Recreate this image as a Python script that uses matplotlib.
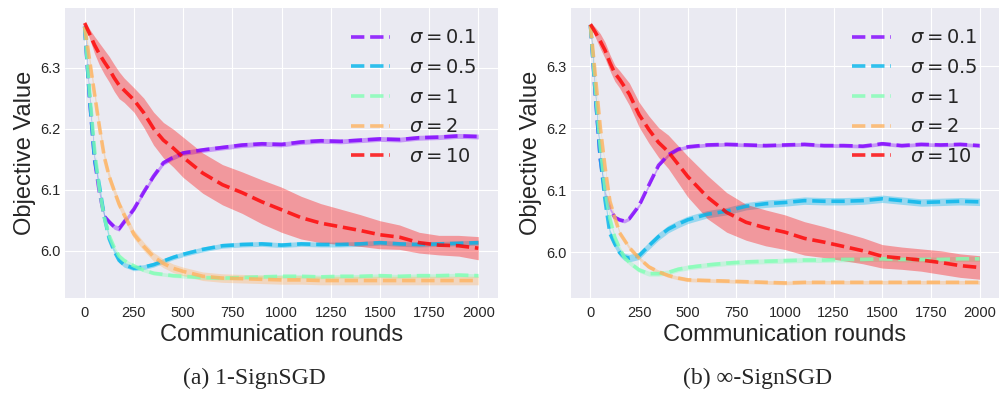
"""Objective value vs communication rounds for 1-SignSGD and inf-SignSGD."""

import matplotlib

matplotlib.use("Agg")

import matplotlib.pyplot as plt  # noqa: E402
import numpy as np  # noqa: E402

ROUNDS = [0, 25, 50, 75, 100, 125, 150, 175, 200, 250, 300, 350, 400, 450, 500,
          600, 700, 800, 900, 1000, 1100, 1200, 1300, 1400, 1500, 1600, 1700,
          1800, 1900, 2000]

SIGMA_LABELS = [r"$\sigma = 0.1$", r"$\sigma = 0.5$", r"$\sigma = 1$",
                r"$\sigma = 2$", r"$\sigma = 10$"]

# (a) 1-SignSGD
A_SIGMA_01 = [6.367, 6.249, 6.150, 6.095, 6.056, 6.047, 6.039, 6.036, 6.047, 6.068,
              6.096, 6.122, 6.144, 6.153, 6.160, 6.165, 6.169, 6.173, 6.175, 6.174,
              6.178, 6.180, 6.179, 6.181, 6.183, 6.182, 6.185, 6.186, 6.188, 6.187]
A_SIGMA_05 = [6.367, 6.249, 6.150, 6.106, 6.055, 6.019, 5.999, 5.984, 5.977, 5.971,
              5.973, 5.977, 5.983, 5.989, 5.994, 6.002, 6.008, 6.010, 6.011, 6.009,
              6.011, 6.010, 6.010, 6.011, 6.013, 6.011, 6.010, 6.011, 6.012, 6.013]
A_SIGMA_1 = [6.367, 6.260, 6.166, 6.099, 6.054, 6.024, 6.005, 5.991, 5.984, 5.975,
             5.968, 5.963, 5.961, 5.959, 5.958, 5.956, 5.955, 5.956, 5.957, 5.958,
             5.958, 5.957, 5.958, 5.958, 5.959, 5.958, 5.959, 5.959, 5.960, 5.959]
A_SIGMA_2 = [6.367, 6.312, 6.257, 6.203, 6.153, 6.121, 6.098, 6.076, 6.059, 6.027,
             6.007, 5.990, 5.979, 5.971, 5.966, 5.958, 5.955, 5.954, 5.953, 5.952,
             5.952, 5.951, 5.951, 5.951, 5.951, 5.951, 5.951, 5.951, 5.951, 5.951]
A_SIGMA_10 = [6.373, 6.355, 6.337, 6.322, 6.309, 6.297, 6.283, 6.271, 6.263, 6.247,
              6.226, 6.200, 6.181, 6.168, 6.153, 6.127, 6.108, 6.095, 6.080, 6.067,
              6.054, 6.045, 6.039, 6.033, 6.026, 6.022, 6.013, 6.009, 6.008, 6.004]
A_SPREAD_10 = [0.003, 0.008, 0.014, 0.018, 0.020, 0.021, 0.022, 0.022, 0.020, 0.020,
               0.024, 0.027, 0.029, 0.031, 0.033, 0.033, 0.033, 0.034, 0.036, 0.037,
               0.035, 0.032, 0.029, 0.026, 0.023, 0.020, 0.017, 0.016, 0.017, 0.019]
A_SPREAD_OTHERS = [0.004, 0.004, 0.003, 0.007]

# (b) inf-SignSGD
B_SIGMA_01 = [6.367, 6.255, 6.152, 6.095, 6.070, 6.056, 6.052, 6.050, 6.054, 6.075,
              6.108, 6.140, 6.157, 6.166, 6.170, 6.173, 6.174, 6.173, 6.172, 6.173,
              6.174, 6.172, 6.172, 6.171, 6.175, 6.172, 6.174, 6.173, 6.174, 6.172]
B_SIGMA_05 = [6.367, 6.255, 6.153, 6.084, 6.030, 6.013, 5.999, 5.992, 5.990, 5.994,
              6.010, 6.025, 6.037, 6.045, 6.052, 6.061, 6.066, 6.074, 6.078, 6.080,
              6.083, 6.082, 6.082, 6.083, 6.086, 6.083, 6.080, 6.081, 6.082, 6.081]
B_SIGMA_1 = [6.367, 6.265, 6.172, 6.101, 6.054, 6.024, 6.006, 5.991, 5.983, 5.971,
             5.965, 5.965, 5.967, 5.972, 5.975, 5.979, 5.982, 5.984, 5.985, 5.986,
             5.987, 5.987, 5.988, 5.988, 5.989, 5.988, 5.988, 5.988, 5.989, 5.989]
B_SIGMA_2 = [6.367, 6.285, 6.203, 6.137, 6.082, 6.056, 6.031, 6.019, 6.007, 5.990,
             5.976, 5.968, 5.962, 5.958, 5.955, 5.954, 5.953, 5.952, 5.951, 5.950,
             5.951, 5.951, 5.951, 5.951, 5.951, 5.951, 5.951, 5.951, 5.951, 5.951]
B_SIGMA_10 = [6.368, 6.355, 6.341, 6.326, 6.306, 6.289, 6.279, 6.267, 6.255, 6.222,
              6.198, 6.177, 6.162, 6.142, 6.122, 6.089, 6.064, 6.048, 6.039, 6.032,
              6.022, 6.016, 6.009, 6.002, 5.993, 5.990, 5.987, 5.983, 5.978, 5.975]
B_SPREAD_10 = [0.003, 0.008, 0.012, 0.013, 0.013, 0.013, 0.014, 0.016, 0.018, 0.020,
               0.022, 0.024, 0.027, 0.030, 0.033, 0.035, 0.032, 0.029, 0.029, 0.028,
               0.027, 0.025, 0.023, 0.021, 0.019, 0.018, 0.018, 0.019, 0.019, 0.019]
B_SPREAD_OTHERS = [0.003, 0.006, 0.004, 0.003]

COLORS = plt.cm.rainbow(np.linspace(0, 1, 5))


def draw_panel(ax, series, spreads):
    x = np.asarray(ROUNDS)
    for y, spread, color, label in zip(series, spreads, COLORS, SIGMA_LABELS):
        y = np.asarray(y)
        spread = np.asarray(spread)
        ax.fill_between(x, y - spread, y + spread, color=color, alpha=0.35,
                        linewidth=0)
        ax.plot(x, y, color=color, linestyle="--", linewidth=2.6, alpha=0.8,
                label=label)
    ax.set_xticks([0, 250, 500, 750, 1000, 1250, 1500, 1750, 2000])
    ax.set_yticks([6.0, 6.1, 6.2, 6.3])
    ax.tick_params(labelsize=10.5)
    ax.tick_params(axis="x", pad=6)
    ax.set_xlabel("Communication rounds", fontsize=17, labelpad=3)
    ax.set_ylabel("Objective Value", fontsize=17, labelpad=3)
    ax.legend(loc="upper right", fontsize=14, frameon=False, labelspacing=0.6,
              handletextpad=1.0, borderaxespad=0.7)


plt.style.use("seaborn-v0_8-darkgrid")
fig = plt.figure(figsize=(10, 3.94), dpi=100)
ax_a = fig.add_axes([0.065, 0.2437, 0.433, 0.736])
ax_b = fig.add_axes([0.571, 0.2437, 0.428, 0.736])

draw_panel(ax_a, [A_SIGMA_01, A_SIGMA_05, A_SIGMA_1, A_SIGMA_2, A_SIGMA_10],
           A_SPREAD_OTHERS + [A_SPREAD_10])
draw_panel(ax_b, [B_SIGMA_01, B_SIGMA_05, B_SIGMA_1, B_SIGMA_2, B_SIGMA_10],
           B_SPREAD_OTHERS + [B_SPREAD_10])

serif = ["Liberation Serif", "DejaVu Serif"]
fig.text(0.254, 0.04, "(a) 1-SignSGD", ha="center", va="center", fontsize=17,
         family=serif)
fig.text(0.758, 0.04, "(b) \u221e-SignSGD", ha="center", va="center", fontsize=17,
         family=serif)

fig.savefig("out.png", dpi=100, facecolor="white")
